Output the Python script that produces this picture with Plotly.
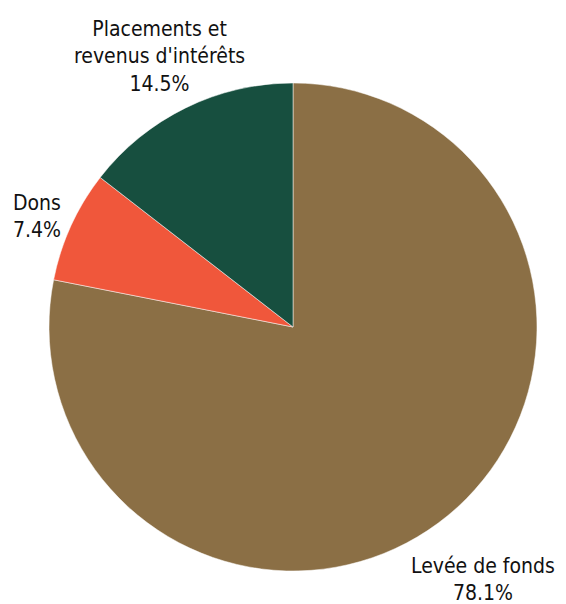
import plotly.graph_objects as go

labels = ["Levée de fonds", "Dons", "Placements et<br>revenus d'intérêts"]
values = [78.1, 7.4, 14.5]
colors = ["#8B6F45", "#F0573B", "#174F3F"]

W, H = 566, 604
OFF = 8  # page body offset of the figure inside the window

def px_x(x):
    return (x - OFF) / W

def px_y(y):
    return 1 - (y - OFF) / H

fig = go.Figure(go.Pie(
    labels=labels,
    values=values,
    sort=False,
    direction="clockwise",
    rotation=0,
    marker=dict(colors=colors, line=dict(color="white", width=0.5)),
    textinfo="none",
    showlegend=False,
    hoverinfo="label+percent",
    domain=dict(x=[px_x(49), px_x(537)], y=[px_y(571), px_y(83)]),
))

# label placement (window pixels): (x, y, xanchor, yanchor, align)
label_pos = [
    (557, 579, "right", "middle", "center"),
    (11, 216, "left", "middle", "left"),
    (159, 98, "center", "bottom", "center"),
]
font = dict(family="DejaVu Sans Condensed", size=21, color="#111111")
for lab, val, (px, py, xa, ya, al) in zip(labels, values, label_pos):
    fig.add_annotation(
        text=f"{lab}<br>{val:.1f}%",
        x=px_x(px), y=px_y(py), xref="paper", yref="paper",
        xanchor=xa, yanchor=ya, align=al, showarrow=False, font=font,
    )

fig.update_layout(
    width=W, height=H,
    margin=dict(l=0, r=0, t=0, b=0),
    paper_bgcolor="white",
    plot_bgcolor="white",
)
fig.write_html("out.html")
